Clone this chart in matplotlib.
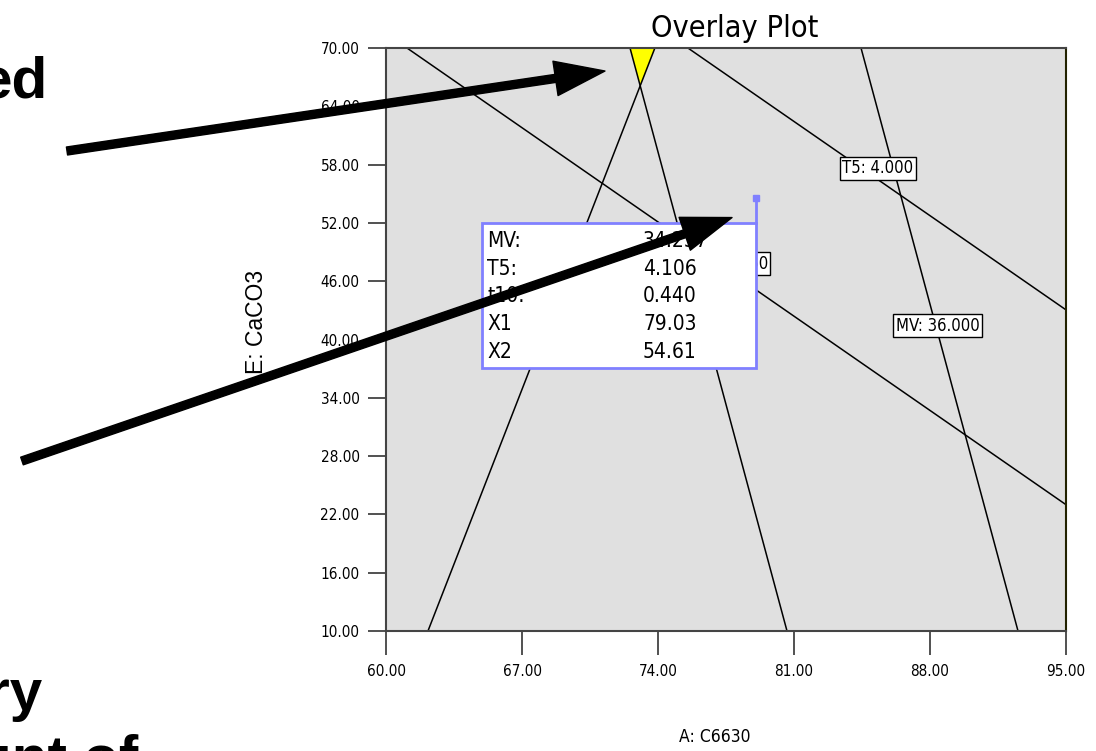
import matplotlib
matplotlib.use("Agg")
import matplotlib.pyplot as plt
from matplotlib.patches import Rectangle, Polygon
import numpy as np

# ---------------- data ----------------
x_ticks = [60.0, 67.0, 74.0, 81.0, 88.0, 95.0]
y_ticks = [10.0, 16.0, 22.0, 28.0, 34.0, 40.0, 46.0, 52.0, 58.0, 64.0, 70.0]
x_tick_labels = ["60.00", "67.00", "74.00", "81.00", "88.00", "95.00"]
y_tick_labels = ["10.00", "16.00", "22.00", "28.00", "34.00", "40.00",
                 "46.00", "52.00", "58.00", "64.00", "70.00"]

# contour lines (straight), start and end points in data units
line_x0 = [61.08, 75.54, 84.45, 72.56, 73.84]
line_y0 = [70.0, 70.0, 70.0, 70.0, 70.0]
line_x1 = [95.0, 95.0, 92.53, 80.64, 62.16]
line_y1 = [23.0, 43.05, 10.0, 10.0, 10.0]

contour_labels = ["T5: 4.000", "MV: 36.000", "t10: 0.450"]
contour_label_x = [85.32, 88.38, 79.66]
contour_label_y = [57.6, 41.4, 47.8]

flag_names = ["MV:", "T5:", "t10:", "X1", "X2"]
flag_values = ["34.237", "4.106", "0.440", "79.03", "54.61"]
flag_x, flag_y = 79.03, 54.61

NARROW = dict(family=["DejaVu Sans"], fontstretch="condensed")
BOLD = dict(family=["Liberation Sans", "DejaVu Sans"], fontstretch="normal",
            fontweight="bold")

fig = plt.figure(figsize=(10.96, 7.51), dpi=100)
ax = fig.add_axes([386 / 1096, 1 - 631 / 751, 680 / 1096, 583 / 751])
ax.set_facecolor("#e0e0e0")
ax.set_xlim(60, 95)
ax.set_ylim(10, 70)

def line_at_y(i, y):
    return line_x0[i] + (line_x1[i] - line_x0[i]) * (y - line_y0[i]) / (line_y1[i] - line_y0[i])

sD = (line_x1[4] - line_x0[4]) / (line_y1[4] - line_y0[4])
sE = (line_x1[3] - line_x0[3]) / (line_y1[3] - line_y0[3])
y_cross = 70 + (line_x0[3] - line_x0[4]) / (sD - sE)
x_cross = line_at_y(3, y_cross)
tri = Polygon([[line_x0[3], 70], [line_x0[4], 70], [x_cross, y_cross]],
              closed=True, facecolor="#ffff00", edgecolor="none", zorder=1)
ax.add_patch(tri)

for i in range(len(line_x0)):
    ax.plot([line_x0[i], line_x1[i]], [line_y0[i], line_y1[i]],
            color="black", lw=1.1, zorder=2)

for t, x, y in zip(contour_labels, contour_label_x, contour_label_y):
    ha = "right" if t.startswith("t10") else "center"
    ax.text(x, y, t, ha=ha, va="center", fontsize=12, zorder=3,
            bbox=dict(boxstyle="square,pad=0.15", facecolor="white",
                      edgecolor="black", lw=1), **NARROW)

# flag box
box_left, box_top, box_bottom = 64.94, 52.0, 37.08
ax.add_patch(Rectangle((box_left, box_bottom), flag_x - box_left, box_top - box_bottom,
                       facecolor="white", edgecolor="#8080ff", lw=2, zorder=5))
ax.plot([flag_x, flag_x], [box_top, flag_y], color="#8080ff", lw=2, zorder=5)
ax.plot([flag_x], [flag_y], marker="s", ms=4, color="#8080ff", zorder=5)
row_y = np.linspace(50.14, 38.72, len(flag_names))
for n, v, y in zip(flag_names, flag_values, row_y):
    ax.text(65.2, y, n, ha="left", va="center", fontsize=15, zorder=6, **NARROW)
    ax.text(73.23, y, v, ha="left", va="center", fontsize=15, zorder=6, **NARROW)

ax.set_xticks(x_ticks)
ax.set_xticklabels(x_tick_labels, fontsize=11, **NARROW)
ax.set_yticks(y_ticks)
ax.set_yticklabels(y_tick_labels, fontsize=11, **NARROW)
ax.tick_params(axis="x", direction="out", length=17, width=1.2, pad=7, color="#333333")
ax.tick_params(axis="y", direction="out", length=13, width=1.2, pad=6, color="#333333")
for s in ["left", "bottom", "top"]:
    ax.spines[s].set_color("#444444")
    ax.spines[s].set_linewidth(1.5)
ax.spines["right"].set_color("#222200")
ax.spines["right"].set_linewidth(1.5)

ax.text(0.513, 1 + 11 / 583, "Overlay Plot", transform=ax.transAxes, ha="center",
        va="baseline", fontsize=22, **NARROW)
ax.set_xlabel("A: C6630", fontsize=12.5, va="center", **NARROW)
ax.xaxis.set_label_coords(0.484, -0.182)
ax.set_ylabel("E: CaCO3", family=["Liberation Sans", "DejaVu Sans"], fontstretch="normal",
              fontsize=16.5, va="center")
ax.yaxis.set_label_coords(-0.191, 0.53)

fig.text(48 / 1096, 1 - 97 / 751, "ed", ha="right", va="baseline", fontsize=42, **BOLD)
fig.text(42 / 1096, 1 - 710 / 751, "ry", ha="right", va="baseline", fontsize=42, **BOLD)
fig.text(138 / 1096, 1 - 775 / 751, "unt of", ha="right", va="baseline", fontsize=42, **BOLD)

arrow_kw = dict(facecolor="black", edgecolor="black", width=5.8, headwidth=25,
                headlength=36, shrink=0.0)
ax.annotate("", xy=(71.27, 67.63), xycoords="data",
            xytext=(67 / 1096, 1 - 151 / 751), textcoords="figure fraction",
            arrowprops=arrow_kw, zorder=10)
ax.annotate("", xy=(77.81, 52.55), xycoords="data",
            xytext=(22 / 1096, 1 - 461 / 751), textcoords="figure fraction",
            arrowprops=arrow_kw, zorder=10)

fig.savefig("out.png", dpi=100)
